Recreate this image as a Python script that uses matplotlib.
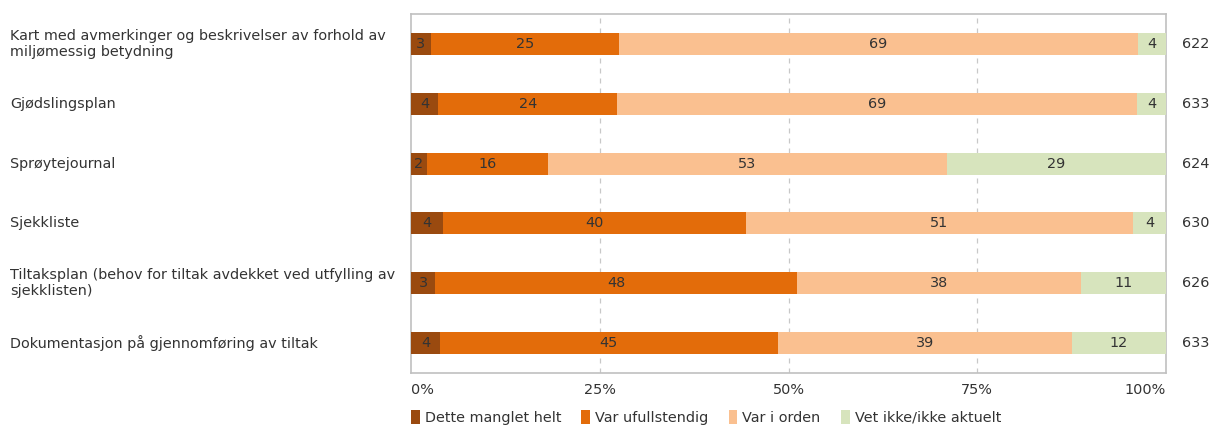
import matplotlib
matplotlib.use("Agg")
import matplotlib.pyplot as plt
import matplotlib.transforms as mtransforms
from matplotlib.patches import Patch
import numpy as np

# Data
categories = [
    "Kart med avmerkinger og beskrivelser av forhold av\nmiljømessig betydning",
    "Gjødslingsplan",
    "Sprøytejournal",
    "Sjekkliste",
    "Tiltaksplan (behov for tiltak avdekket ved utfylling av\nsjekklisten)",
    "Dokumentasjon på gjennomføring av tiltak",
]
series_names = ["Dette manglet helt", "Var ufullstendig", "Var i orden", "Vet ikke/ikke aktuelt"]
manglet = [2.6, 3.6, 2.1, 4.3, 3.2, 3.8]
ufullstendig = [24.9, 23.7, 16.0, 40.1, 47.9, 44.8]
i_orden = [68.8, 68.9, 52.9, 51.2, 37.6, 38.9]
vet_ikke = [3.7, 3.8, 29.0, 4.4, 11.3, 12.5]
totals = [622, 633, 624, 630, 626, 633]
tick_vals = [0, 25, 50, 75, 100]
tick_labels = ["0%", "25%", "50%", "75%", "100%"]

colors = ["#9a4a0f", "#e36c0a", "#fac090", "#d7e4bd"]
text_col = "#333333"
fs = 10.4
plt.rcParams["font.family"] = "DejaVu Sans"
plt.rcParams["font.size"] = fs

fig = plt.figure(figsize=(12.14, 4.25), dpi=100)
ax = fig.add_axes([411 / 1214, 1 - 373 / 425, (1166 - 411) / 1214, (373 - 14) / 425])

y = np.arange(len(categories))
left = np.zeros(len(categories))
for vals, col in zip([manglet, ufullstendig, i_orden, vet_ikke], colors):
    vals = np.array(vals)
    ax.barh(y, vals, left=left, height=0.37, color=col, edgecolor="none", zorder=3)
    for yi, l, v in zip(y, left, vals):
        ax.text(l + v / 2, yi, f"{v:.0f}", ha="center", va="center",
                color=text_col, fontsize=fs, zorder=4)
    left += vals

ax.set_xlim(0, 100)
ax.set_ylim(len(categories) - 0.5, -0.5)
ax.set_yticks([])
ax.set_xticks(tick_vals)
ax.set_xticklabels(tick_labels, color=text_col)
for lbl, ha in zip(ax.get_xticklabels(), ["left", "center", "center", "center", "right"]):
    lbl.set_horizontalalignment(ha)
ax.tick_params(axis="x", length=0, pad=7)
for s in ax.spines.values():
    s.set_color("#c0c0c0")
    s.set_linewidth(1.2)
for v in tick_vals[1:-1]:
    ax.axvline(v, color="#c8c8c8", linestyle=(0, (4, 4)), linewidth=0.9, zorder=1)

# category labels and totals
trans_l = mtransforms.blended_transform_factory(fig.transFigure, ax.transData)
for yi, cat, tot in zip(y, categories, totals):
    ax.text(10 / 1214, yi, cat, transform=trans_l, ha="left", va="center",
            color=text_col, fontsize=fs, linespacing=1.15)
    ax.text(1182 / 1214, yi, str(tot), transform=trans_l, ha="left", va="center",
            color=text_col, fontsize=fs)

handles = [Patch(facecolor=c, edgecolor="none") for c in colors]
fig.legend(handles, series_names, loc="lower left", bbox_to_anchor=(398 / 1214, -0.03),
           ncol=4, frameon=False, handlelength=0.6, handleheight=1.1,
           handletextpad=0.35, columnspacing=1.4, fontsize=fs, labelcolor=text_col)

fig.savefig("out.png", dpi=100)
